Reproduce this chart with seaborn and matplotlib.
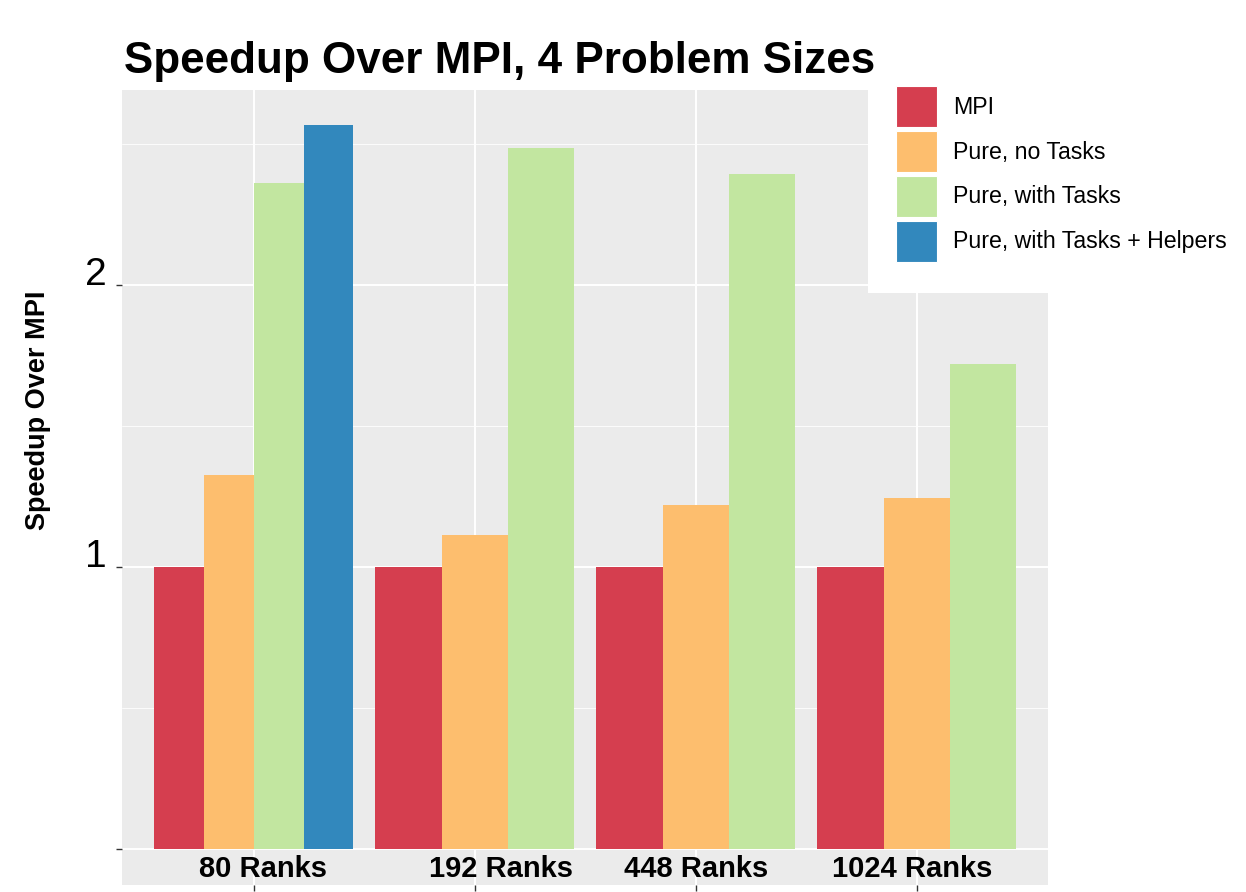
import numpy as np
import pandas as pd
import matplotlib
matplotlib.use("Agg")
import matplotlib.pyplot as plt
from matplotlib.patches import Patch, Rectangle
import seaborn as sns

ranks = ["80 Ranks", "192 Ranks", "448 Ranks", "1024 Ranks"]
configs = ["MPI", "Pure, no Tasks", "Pure, with Tasks", "Pure, with Tasks + Helpers"]
mpi = [1.0, 1.0, 1.0, 1.0]
pure_no_tasks = [1.326, 1.113, 1.220, 1.245]
pure_with_tasks = [2.362, 2.486, 2.394, 1.720]
pure_helpers = [2.567, None, None, None]
colors = ["#D53E4F", "#FDBE6E", "#C2E6A0", "#3288BD"]

rows = []
for i, r in enumerate(ranks):
    for c, vals in zip(configs, [mpi, pure_no_tasks, pure_with_tasks, pure_helpers]):
        if vals[i] is not None:
            rows.append({"Rank": r, "Config": c, "Speedup": vals[i]})
df = pd.DataFrame(rows)
palette = dict(zip(configs, colors))

sns.set_theme(style="darkgrid", rc={"axes.facecolor": "#EBEBEB", "grid.color": "white"})
plt.rcParams["font.family"] = ["Liberation Sans", "DejaVu Sans"]
plt.rcParams["text.color"] = "black"
plt.rcParams["axes.labelcolor"] = "black"
plt.rcParams["xtick.color"] = "#333333"
plt.rcParams["ytick.color"] = "#333333"
plt.rcParams["xtick.labelcolor"] = "black"
plt.rcParams["ytick.labelcolor"] = "black"

fig = plt.figure(figsize=(12.46, 8.92), dpi=100)
ax = fig.add_axes([122 / 1246, 7 / 892, (1048 - 122) / 1246, (885 - 90) / 892])

for r in ranks:
    sub = df[df["Rank"] == r]
    present = [c for c in configs if c in set(sub["Config"])]
    sns.barplot(data=sub, x="Rank", y="Speedup", hue="Config", order=ranks,
                hue_order=present, palette=palette, width=0.9, dodge=True,
                saturation=1, legend=False, ax=ax, errorbar=None, linewidth=0)

ax.set_xlim(-0.597, 3.593)
ax.set_ylim(-0.128, 2.691)
ax.set_yticks([0, 1, 2])
ax.set_yticklabels(["", "1", "2"], fontsize=28)
for t in ax.get_yticklabels():
    t.set_verticalalignment("baseline")
ax.set_yticks([0.5, 1.5, 2.5], minor=True)
ax.set_xticks(range(len(ranks)))
ax.set_xticklabels([])
ax.grid(True, which="major", color="white", linewidth=1.4)
ax.grid(True, which="minor", axis="y", color="white", linewidth=0.6)
ax.set_axisbelow(True)
ax.tick_params(axis="both", which="major", length=4, width=1, pad=7, bottom=True, left=True)
ax.tick_params(axis="y", which="minor", length=0)
for s in ax.spines.values():
    s.set_visible(False)
ax.set_xlabel("")
ax.set_ylabel("Speedup Over MPI", fontsize=19.5, fontweight="bold")
ax.yaxis.set_label_coords(-0.0907, 0.597)
ax.yaxis.label.set_verticalalignment("center")

label_offsets = [0.04, 0.116, 0.0, -0.023]
for i, (r, off) in enumerate(zip(ranks, label_offsets)):
    ax.text(i + off, 0.010, r, transform=ax.get_xaxis_transform(), ha="center", va="baseline",
            fontsize=21, fontweight="bold")

fig.text(124 / 1246, 1 - 73 / 892, "Speedup Over MPI, 4 Problem Sizes", fontsize=31.7,
         fontweight="bold", ha="left", va="baseline")

# white legend panel
fig.patches.append(Rectangle((868 / 1246, 1 - 293 / 892), (1246 - 868) / 1246, (293 - 85) / 892,
                             transform=fig.transFigure, facecolor="white", edgecolor="none",
                             zorder=5))
handles = [Patch(facecolor=c, edgecolor="white", linewidth=0.8, label=l)
           for c, l in zip(colors, configs)]
leg = fig.legend(handles=handles, loc="upper left", bbox_to_anchor=(896 / 1246, 1 - 86 / 892),
                 frameon=False, fontsize=16.7, handlelength=1.77, handleheight=2.34,
                 handletextpad=0.69, labelspacing=0.17, borderpad=0, borderaxespad=0)
leg.set_zorder(6)

fig.savefig("out.png", dpi=100, facecolor="white")
